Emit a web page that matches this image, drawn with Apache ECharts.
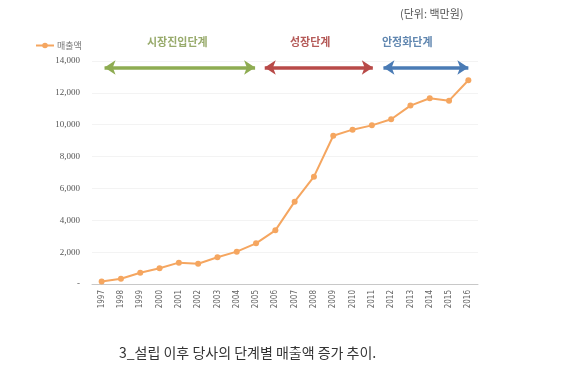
<!DOCTYPE html>
<html>
<head>
<meta charset="utf-8">
<script src="https://cdn.jsdelivr.net/npm/echarts@6/dist/echarts.min.js"></script>
<style>
  html, body { margin: 0; padding: 0; background: #fff; }
  #chart { width: 561px; height: 376px; }
</style>
</head>
<body>
<div id="chart"></div>
<script>
const YEARS = ['1997', '1998', '1999', '2000', '2001', '2002', '2003', '2004', '2005', '2006',
  '2007', '2008', '2009', '2010', '2011', '2012', '2013', '2014', '2015', '2016']
const SALES = [150, 330, 710, 985, 1340, 1275, 1675, 2030, 2555, 3370,
  5170, 6740, 9310, 9690, 9960, 10340, 11200, 11660, 11510, 12790]

// phase arrows: [start year, end year] on a continuous year scale
const PHASE_NAMES = ['시장진입단계', '성장단계', '안정화단계']
const PHASE_SPANS = [[1997.15, 2004.95], [2005.45, 2011.05], [2011.6, 2016]]
const PHASE_LEVEL = 13590

const PHASE_COLORS = ['#8eac52', '#b84a48', '#4a7bb5']
const PHASE_TEXT_COLORS = ['#98ab6c', '#b55a58', '#6187b0']

const chart = echarts.init(document.getElementById('chart'), null, { renderer: 'canvas' })

const phaseSeries = PHASE_SPANS.map((span, i) => ({
  type: 'line',
  xAxisIndex: 1,
  data: [],
  silent: true,
  markLine: {
    silent: true,
    symbol: ['arrow', 'arrow'],
    symbolSize: [11, 11],
    label: { show: false },
    lineStyle: { color: PHASE_COLORS[i], width: 3.5, type: 'solid' },
    data: [[{ coord: [span[0], PHASE_LEVEL] }, { coord: [span[1], PHASE_LEVEL] }]],
  },
}))

const phaseFont = 'bold 11px "Noto Sans CJK KR", sans-serif'

chart.setOption({
  animation: false,
  backgroundColor: '#fff',
  textStyle: { fontFamily: '"Noto Sans CJK KR", sans-serif' },
  grid: { left: 92, right: 83, top: 61, bottom: 92 },
  legend: {
    left: 30, top: 36,
    itemWidth: 18, itemHeight: 7,
    itemGap: 4,
    data: ['매출액'],
    textStyle: { fontSize: 9, color: '#777', padding: [0, 0, 0, -2] },
  },
  graphic: [
    { type: 'text', left: 147, top: 36, style: { text: PHASE_NAMES[0], fill: PHASE_TEXT_COLORS[0], font: phaseFont } },
    { type: 'text', left: 290, top: 36, style: { text: PHASE_NAMES[1], fill: PHASE_TEXT_COLORS[1], font: phaseFont } },
    { type: 'text', left: 382, top: 36, style: { text: PHASE_NAMES[2], fill: PHASE_TEXT_COLORS[2], font: phaseFont } },
    { type: 'text', left: 400, top: 8, style: { text: '(단위: 백만원)', fill: '#555', font: '11px "Noto Sans CJK KR", sans-serif' } },
    { type: 'text', left: 119, top: 346, style: { text: '3_설립 이후 당사의 단계별 매출액 증가 추이.', fill: '#333', font: '14px "Noto Sans CJK KR", sans-serif' } },
  ],
  xAxis: [
    {
      type: 'category',
      data: YEARS,
      boundaryGap: true,
      axisLine: { lineStyle: { color: '#c8c8c8' } },
      axisTick: { show: false },
      axisLabel: {
        rotate: 90,
        interval: 0,
        margin: 6,
        fontSize: 8,
        color: '#666',
        fontFamily: '"DejaVu Sans Condensed", sans-serif',
      },
      splitLine: { show: false },
    },
    {
      type: 'value',
      min: 1996.5,
      max: 2016.5,
      show: false,
    },
  ],
  yAxis: {
    type: 'value',
    min: 0,
    max: 14000,
    interval: 2000,
    axisLine: { show: false },
    axisTick: { show: false },
    axisLabel: {
      margin: 12,
      fontSize: 9,
      color: '#555',
      fontFamily: '"Liberation Serif", serif',
      formatter: v => (v === 0 ? '-' : v.toLocaleString('en-US')),
    },
    splitLine: { lineStyle: { color: '#f3f3f3', width: 1 } },
  },
  series: [
    {
      name: '매출액',
      type: 'line',
      data: SALES,
      symbol: 'circle',
      symbolSize: 6,
      lineStyle: { color: '#f5a660', width: 2 },
      itemStyle: { color: '#f5a660' },
    },
    ...phaseSeries,
  ],
})
</script>
</body>
</html>
